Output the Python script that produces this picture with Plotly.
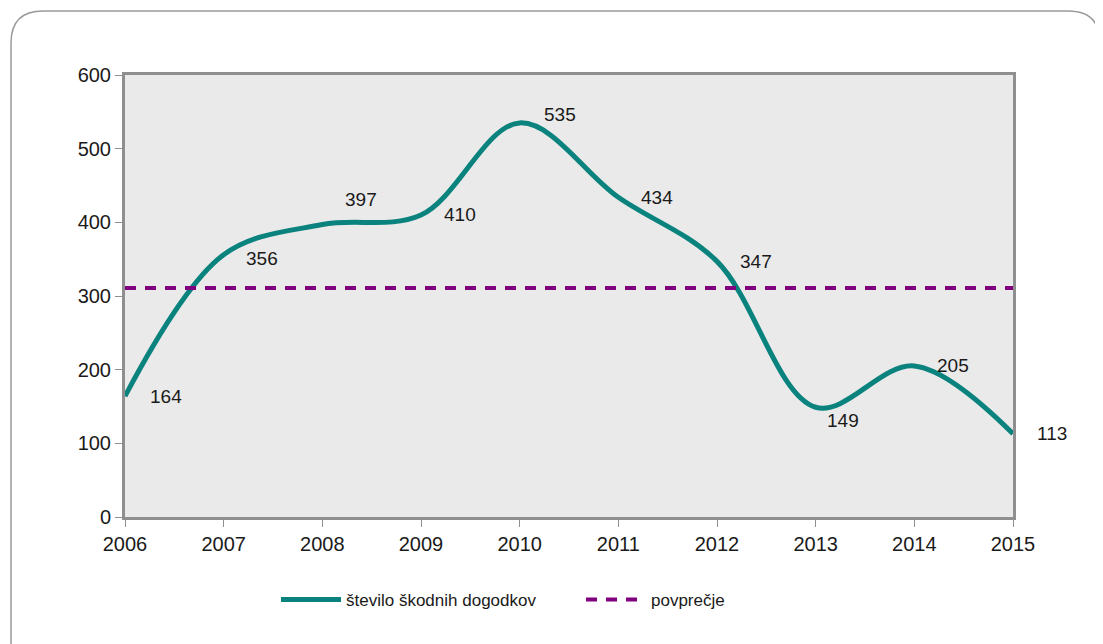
import plotly.graph_objects as go

years = [2006, 2007, 2008, 2009, 2010, 2011, 2012, 2013, 2014, 2015]
events = [164, 356, 397, 410, 535, 434, 347, 149, 205, 113]
series_name = "število škodnih dogodkov"
avg_name = "povprečje"
avg_value = sum(events) / len(events)

# label offsets (pixels) for data labels
label_dx = [41, 38, 39, 39, 40, 39, 39, 27, 39, 39]
label_dy = [0, -4, 25, 0, 8, 0, 0, -13, 0, 0]

# figure is drawn inside the page body (8px margin), so sizes are reduced accordingly
W, H = 1095, 636
L, R, T, B = 117, 90, 67, 127
pw, ph = W - L - R, H - T - B
OFF = 8

def px(x):
    return (x - OFF - L) / pw

def py(y):
    return (H - B - (y - OFF)) / ph

fig = go.Figure()
fig.add_trace(go.Scatter(
    x=years, y=events, mode="lines", name=series_name, legend="legend",
    line=dict(color="#0a827d", width=5, shape="spline", smoothing=1.0),
    hoverinfo="x+y"))
fig.add_trace(go.Scatter(
    x=[years[0], years[-1]], y=[avg_value, avg_value], mode="lines", name=avg_name,
    legend="legend2",
    line=dict(color="#800080", width=4, dash="11px,9px")))

for x, y, dx, dy in zip(years, events, label_dx, label_dy):
    fig.add_annotation(x=x, y=y, text=str(y), showarrow=False,
                       xshift=dx, yshift=dy, xanchor="center", yanchor="middle",
                       font=dict(size=19, color="#1a1a1a"))

# rounded outer frame
x0, y0, x1, y1, r = px(11), py(11), px(1100), py(660), 32
rx, ry = r / pw, r / ph
path = (f"M {x0+rx},{y0} L {x1-rx},{y0} Q {x1},{y0} {x1},{y0-ry} "
        f"L {x1},{y1} L {x0},{y1} L {x0},{y0-ry} Q {x0},{y0} {x0+rx},{y0} Z")
fig.add_shape(type="path", path=path, xref="paper", yref="paper",
              line=dict(color="#9a9a9a", width=1.5), layer="below")

axis_common = dict(showline=True, linecolor="#8f8f8f", linewidth=3, mirror=True,
                   showgrid=False, zeroline=False, ticks="outside", ticklen=7,
                   tickcolor="#8f8f8f", tickwidth=1,
                   tickfont=dict(size=20, color="#1a1a1a"))

legend_common = dict(orientation="h", xanchor="left", y=py(600), yanchor="middle",
                     font=dict(size=17), itemwidth=60, bgcolor="rgba(0,0,0,0)")

fig.update_layout(
    width=W, height=H,
    margin=dict(l=L, r=R, t=T, b=B, autoexpand=False),
    paper_bgcolor="white", plot_bgcolor="#eaeaea",
    font=dict(family="Liberation Sans, Arial, sans-serif", size=17, color="#1a1a1a"),
    xaxis=dict(range=[2006, 2015], tickmode="array", tickvals=years,
               ticktext=[str(y) for y in years], **axis_common),
    yaxis=dict(range=[0, 600], tickvals=[0, 100, 200, 300, 400, 500, 600], **axis_common),
    legend=dict(x=px(276), **legend_common),
    legend2=dict(x=px(581), **legend_common),
    showlegend=True,
)

fig.write_html("out.html")
